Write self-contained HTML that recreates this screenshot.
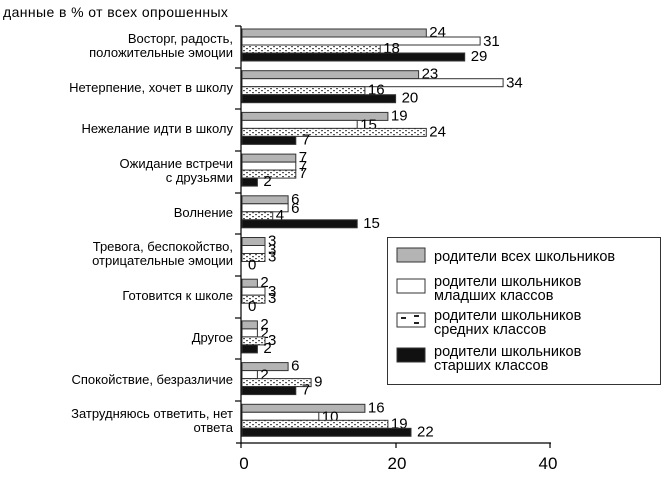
<!DOCTYPE html>
<html><head><meta charset="utf-8"><style>
html,body{margin:0;padding:0;background:#fff;}
svg{display:block;font-family:"Liberation Sans",sans-serif;}
</style></head><body>
<svg width="670" height="481" viewBox="0 0 670 481">
<defs>
<pattern id="dots" width="6" height="4" patternUnits="userSpaceOnUse">
<rect width="6" height="4" fill="#fff"/>
<rect x="0" y="0" width="2" height="1.2" fill="#555"/>
<rect x="3" y="2" width="2" height="1.2" fill="#555"/>
</pattern>
</defs>
<text x="3" y="17" font-size="14" letter-spacing="0.4">данные в % от всех опрошенных</text>
<g font-size="13" text-anchor="end" fill="#000">
<text x="233" y="43">Восторг, радость,</text><text x="233" y="57">положительные эмоции</text>
<text x="233" y="92">Нетерпение, хочет в школу</text>
<text x="233" y="133">Нежелание идти в школу</text>
<text x="233" y="168">Ожидание встречи</text><text x="233" y="182">с друзьями</text>
<text x="233" y="217">Волнение</text>
<text x="233" y="251">Тревога, беспокойство,</text><text x="233" y="265">отрицательные эмоции</text>
<text x="233" y="300">Готовится к школе</text>
<text x="233" y="342">Другое</text>
<text x="233" y="384">Спокойствие, безразличие</text>
<text x="233" y="418">Затрудняюсь ответить, нет</text><text x="233" y="432">ответа</text>
</g>
<g stroke="#000" stroke-width="1.2">
<line x1="241" y1="26" x2="241" y2="443"/>
<line x1="236" y1="443" x2="551" y2="443"/>
<line x1="241" y1="443" x2="241" y2="448"/>
<line x1="396" y1="443" x2="396" y2="448"/>
<line x1="550" y1="443" x2="550" y2="448"/>
<line x1="235" y1="26" x2="241" y2="26"/><line x1="235" y1="68" x2="241" y2="68"/>
<line x1="235" y1="109" x2="241" y2="109"/><line x1="235" y1="151" x2="241" y2="151"/>
<line x1="235" y1="193" x2="241" y2="193"/><line x1="235" y1="234" x2="241" y2="234"/>
<line x1="235" y1="276" x2="241" y2="276"/><line x1="235" y1="318" x2="241" y2="318"/>
<line x1="235" y1="359" x2="241" y2="359"/><line x1="235" y1="401" x2="241" y2="401"/>
</g>
<g font-size="17" text-anchor="middle"><text x="244" y="469">0</text><text x="397" y="469">20</text><text x="548" y="469">40</text></g>
<g id="bars" stroke="#333" stroke-width="1" font-size="15"></g>
<rect x="387.5" y="237.5" width="273" height="147" fill="#fff" stroke="#333"/>
<rect x="397" y="248" width="28" height="14" fill="#b4b4b4" stroke="#333"/>
<rect x="397" y="279" width="28" height="14" fill="#fff" stroke="#333"/>
<rect x="397" y="313" width="28" height="14" fill="#fff" stroke="#333"/>
<rect x="401" y="317" width="5" height="2" fill="#222"/><rect x="414" y="315" width="5" height="2" fill="#222"/><rect x="414" y="322" width="5" height="2" fill="#222"/>
<rect x="397" y="348" width="28" height="14" fill="#111" stroke="#333"/>
<g font-size="14.5">
<text x="434" y="261">родители всех школьников</text>
<text x="434" y="286">родители школьников</text><text x="434" y="300">младших классов</text>
<text x="434" y="320">родители школьников</text><text x="434" y="334">средних классов</text>
<text x="434" y="356">родители школьников</text><text x="434" y="370">старших классов</text>
</g>
</svg>
<script>
var d=[[24,31,18,29],[23,34,16,20],[19,15,24,7],[7,7,7,2],[6,6,4,15],[3,3,3,0],[2,3,3,0],[2,2,3,2],[6,2,9,7],[16,10,19,22]];
var fills=["#b4b4b4","#fff","url(#dots)","#111"];var g=document.getElementById("bars");var s="";
for(var i=0;i<10;i++){var y0=29+41.7*i;for(var j=0;j<4;j++){var y=y0+8*j,w=d[i][j]*7.68;
if(w>0)s+='<rect x="242" y="'+y.toFixed(1)+'" width="'+w.toFixed(1)+'" height="8" fill="'+fills[j]+'"/>';
s+='<text x="'+(244+w+(j==3?4:1)).toFixed(1)+'" y="'+(y+(j==1?9:8)).toFixed(1)+'" stroke="none" fill="#000">'+d[i][j]+'</text>';}}
g.innerHTML=s;
</script>
</body></html>
